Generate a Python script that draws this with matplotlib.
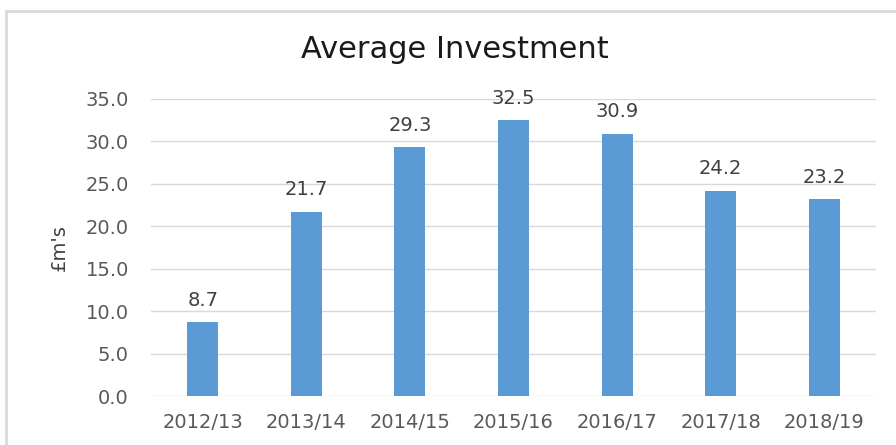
import matplotlib
matplotlib.use('Agg')
import matplotlib.pyplot as plt
from matplotlib.lines import Line2D

years = ['2012/13', '2013/14', '2014/15', '2015/16', '2016/17', '2017/18', '2018/19']
investment = [8.7, 21.7, 29.3, 32.5, 30.9, 24.2, 23.2]
yticks = [0, 5, 10, 15, 20, 25, 30, 35]

plt.rcParams['font.family'] = ['DejaVu Sans']

fig = plt.figure(figsize=(8.96, 4.45), dpi=100)
ax = fig.add_axes([151/896, 49/445, 725/896, 297/445])

x = range(len(years))
bars = ax.bar(x, investment, width=0.3, color='#5B9BD5', zorder=3)
for xi, v in zip(x, investment):
    ax.annotate(f'{v:.1f}', (xi, v), xytext=(0, 9), textcoords='offset points',
                ha='center', va='bottom', fontsize=14, color='#404040')

ax.set_xlim(-0.5, len(years) - 0.5)
ax.set_ylim(0, 35)
ax.set_yticks(yticks)
ax.set_yticklabels([f'{t:.1f}' for t in yticks])
ax.set_xticks(list(x))
ax.set_xticklabels(years)
ax.tick_params(axis='both', length=0, labelsize=14, labelcolor='#595959')
ax.tick_params(axis='y', pad=16)
ax.tick_params(axis='x', pad=12)
ax.grid(axis='y', color='#D9D9D9', linewidth=1, zorder=0)
for s in ax.spines.values():
    s.set_visible(False)
ax.set_ylabel("£m's", fontsize=14, color='#404040', labelpad=12)

fig.text(455/896, 1 - 50/445, 'Average Investment', ha='center', va='center',
         fontsize=22, color='#1a1a1a')

# chart area border (top and left visible)
fig.add_artist(Line2D([6/896, 1], [1 - 11/445, 1 - 11/445], transform=fig.transFigure,
                      color='#D9D9D9', linewidth=2))
fig.add_artist(Line2D([6/896, 6/896], [0, 1 - 11/445], transform=fig.transFigure,
                      color='#D9D9D9', linewidth=2))

fig.savefig('out.png', dpi=100)
